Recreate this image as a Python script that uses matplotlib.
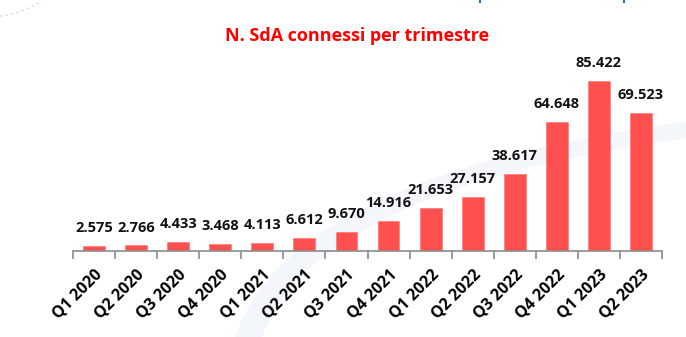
import numpy as np
import matplotlib.pyplot as plt
from matplotlib.path import Path
from matplotlib.patches import PathPatch

plt.rcParams['font.family'] = ['Open Sans', 'DejaVu Sans']

quarters = ["Q1 2020", "Q2 2020", "Q3 2020", "Q4 2020",
            "Q1 2021", "Q2 2021", "Q3 2021", "Q4 2021",
            "Q1 2022", "Q2 2022", "Q3 2022", "Q4 2022",
            "Q1 2023", "Q2 2023"]
sda = [2575, 2766, 4433, 3468, 4113, 6612, 9670, 14916,
       21653, 27157, 38617, 64648, 85422, 69523]

fig = plt.figure(figsize=(6.86, 3.37), dpi=100)

# faint background decoration (pixel coordinates)
bg = fig.add_axes([0, 0, 1, 1], zorder=-1)
bg.set_xlim(0, 686)
bg.set_ylim(337, 0)
bg.axis("off")
verts = [(235, 337), (290, 175), (686, 122), (686, 138),
         (315, 190), (262, 337), (235, 337)]
codes = [Path.MOVETO, Path.CURVE3, Path.CURVE3, Path.LINETO,
         Path.CURVE3, Path.CURVE3, Path.CLOSEPOLY]
bg.add_patch(PathPatch(Path(verts, codes), facecolor="#f3f6fa",
                       edgecolor="none"))
arc_x = np.linspace(0, 42, 30)
bg.plot(arc_x, 16 - 15 * (arc_x / 42) ** 1.6, color="#cfcfcf", lw=0.8,
        ls=(0, (2, 3)))
bg.plot([480, 480], [0, 1.5], color="#1a6fb8", lw=1.5)
bg.plot([624, 624], [0, 1.5], color="#1a6fb8", lw=1.5)

ax = fig.add_axes([73 / 686, 86 / 337, 589 / 686, 191 / 337])
ax.patch.set_alpha(0)
x = np.arange(len(quarters))
ax.bar(x, sda, width=0.52, color="#ff5050", edgecolor="#ff8080", linewidth=0.6)

for xi, v in zip(x, sda):
    ax.annotate(f"{v:,}".replace(",", "."), (xi, v), xytext=(0, 10),
                textcoords="offset points", ha="center", va="baseline",
                fontsize=10.5, fontweight="bold", color="#111111")

ax.set_xlim(-0.5, len(quarters) - 0.5)
ax.set_ylim(0, 85422 * 191 / 170)

ax.set_xticks(np.arange(-0.5, len(quarters)), minor=False)
ax.set_xticklabels([])
ax.set_xticks(x, minor=True)
ax.set_xticklabels(quarters, minor=True, rotation=45, ha="right",
                   rotation_mode="anchor", fontsize=11.5, fontweight="bold")
ax.tick_params(axis="x", which="major", length=6, width=1.2, color="#8c8c8c")
ax.tick_params(axis="x", which="minor", length=0, pad=11)
ax.set_yticks([])
for s in ["top", "right", "left"]:
    ax.spines[s].set_visible(False)
ax.spines["bottom"].set_color("#8c8c8c")
ax.spines["bottom"].set_linewidth(1.2)

fig.text(0.52, 0.893, "N. SdA connessi per trimestre", color="#ff0000",
         fontsize=13, fontweight="bold", ha="center", va="center")

fig.savefig("out.png", dpi=100)
